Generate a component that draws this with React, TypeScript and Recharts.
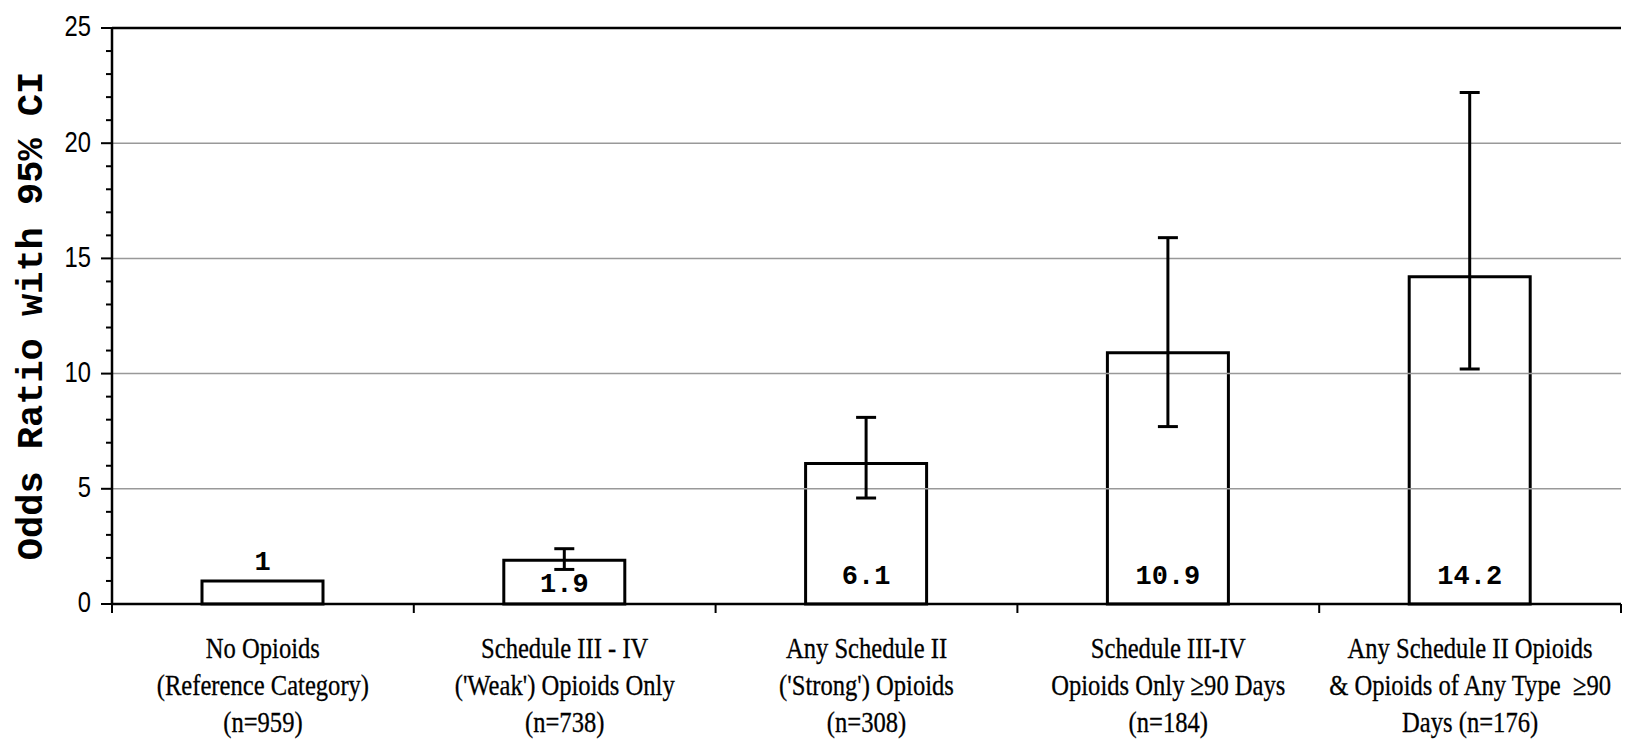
import { BarChart, Bar, XAxis, YAxis, ErrorBar, ReferenceLine, LabelList } from 'recharts';

const categoryNames = ['No Opioids', 'Schedule III - IV', 'Any Schedule II', 'Schedule III-IV', 'Any Schedule II Opioids'];
const categoryLines = [
  ['No Opioids', '(Reference Category)', '(n=959)'],
  ['Schedule III - IV', "('Weak') Opioids Only", '(n=738)'],
  ['Any Schedule II', "('Strong') Opioids", '(n=308)'],
  ['Schedule III-IV', 'Opioids Only \u226590 Days', '(n=184)'],
  ['Any Schedule II Opioids', '& Opioids of Any Type \u00a0\u226590', 'Days (n=176)'],
];
const oddsRatios = [1, 1.9, 6.1, 10.9, 14.2];
const ciLower = [null, 1.5, 4.6, 7.7, 10.2];
const ciUpper = [null, 2.4, 8.1, 15.9, 22.2];
const yTicks = [0, 1, 2, 3, 4, 5, 6, 7, 8, 9, 10, 11, 12, 13, 14, 15, 16, 17, 18, 19, 20, 21, 22, 23, 24, 25];
const gridValues = [5, 10, 15, 20];

const W = 1627;
const H = 742;
const margin = { top: 28, right: 6, bottom: 38, left: 52 };
const bandWidth = (W - 112 - 6) / categoryNames.length;

const data = categoryNames.map((name, i) => ({
  name,
  or: oddsRatios[i],
  ci: ciLower[i] == null ? null : [oddsRatios[i] - (ciLower[i] as number), (ciUpper[i] as number) - oddsRatios[i]],
}));

const YTick = (props: any) => {
  const { x, y, payload } = props;
  const major = payload.value % 5 === 0;
  return (
    <g>
      <line x1={x - (major ? 11 : 6)} x2={x} y1={y} y2={y} stroke="#000" strokeWidth={2} />
      {major && (
        <text
          transform={`translate(${x - 21},${y - 2}) scale(0.82,1)`}
          textAnchor="end"
          dy="0.36em"
          fontFamily="Liberation Sans, Arial, sans-serif"
          fontSize={29}
          fill="#000"
        >
          {payload.value}
        </text>
      )}
    </g>
  );
};

const XTick = (props: any) => {
  const { x, y, index } = props;
  const half = bandWidth / 2;
  const lines = categoryLines[index] || [];
  return (
    <g>
      <line x1={x - half} x2={x - half} y1={y} y2={y + 9} stroke="#000" strokeWidth={2} />
      {index === categoryNames.length - 1 && (
        <line x1={x + half} x2={x + half} y1={y} y2={y + 9} stroke="#000" strokeWidth={2} />
      )}
      {lines.map((t, i) => (
        <text
          key={i}
          transform={`translate(${x},${y + 43 + i * 37}) scale(0.82,1)`}
          textAnchor="middle"
          dy="0.35em"
          fontFamily="Liberation Serif, 'Times New Roman', serif"
          fontSize={30}
          fill="#000"
          stroke="#000"
          strokeWidth={0.3}
        >
          {t}
        </text>
      ))}
    </g>
  );
};

const ValueLabel = (props: any) => {
  const { x, y, width, height, value } = props;
  const cx = x + width / 2;
  const bottom = y + height;
  const cy = height < 30 ? y - 21 : Math.max(y + height / 2, bottom - 30);
  return (
    <text
      x={cx}
      y={cy}
      dy="0.36em"
      textAnchor="middle"
      fontFamily="Liberation Mono, 'Courier New', monospace"
      fontWeight="bold"
      fontSize={27}
      fill="#000"
    >
      {value}
    </text>
  );
};

const YTitle = (props: any) => {
  const { viewBox } = props;
  const cy = viewBox.y + viewBox.height / 2;
  const tx = 29;
  return (
    <text
      x={tx}
      y={cy}
      transform={`rotate(-90, ${tx}, ${cy})`}
      textAnchor="middle"
      dy="0.35em"
      fontFamily="Liberation Mono, 'Courier New', monospace"
      fontWeight="bold"
      fontSize={37}
      fill="#000"
    >
      Odds Ratio with 95% CI
    </text>
  );
};

export default function App() {
  return (
    <div style={{ position: 'absolute', left: 0, top: 0, width: W, height: H, background: '#fff' }}>
      <BarChart width={W} height={H} data={data} margin={margin}>
        {gridValues.map((v) => (
          <ReferenceLine key={v} y={v} stroke="#999" strokeWidth={1.5} />
        ))}
        <ReferenceLine y={25} stroke="#000" strokeWidth={2.5} />
        <XAxis
          dataKey="name"
          height={100}
          interval={0}
          tickLine={false}
          tickSize={0}
          tickMargin={0}
          axisLine={{ stroke: '#000', strokeWidth: 2.5 }}
          tick={<XTick />}
        />
        <YAxis
          width={60}
          domain={[0, 25]}
          ticks={yTicks}
          interval={0}
          tickLine={false}
          tickSize={0}
          tickMargin={0}
          axisLine={{ stroke: '#000', strokeWidth: 2.5 }}
          tick={<YTick />}
          label={<YTitle />}
        />
        <YAxis
          yAxisId="frame"
          orientation="right"
          width={0}
          domain={[0, 25]}
          tick={false}
          tickLine={false}
          axisLine={{ stroke: '#000', strokeWidth: 2.5 }}
        />
        <Bar dataKey="or" fill="#fff" stroke="#000" strokeWidth={3} barSize={121} isAnimationActive={false}>
          <ErrorBar dataKey="ci" direction="y" width={10} stroke="#000" strokeWidth={3} />
          <LabelList dataKey="or" content={<ValueLabel />} />
        </Bar>
      </BarChart>
    </div>
  );
}
